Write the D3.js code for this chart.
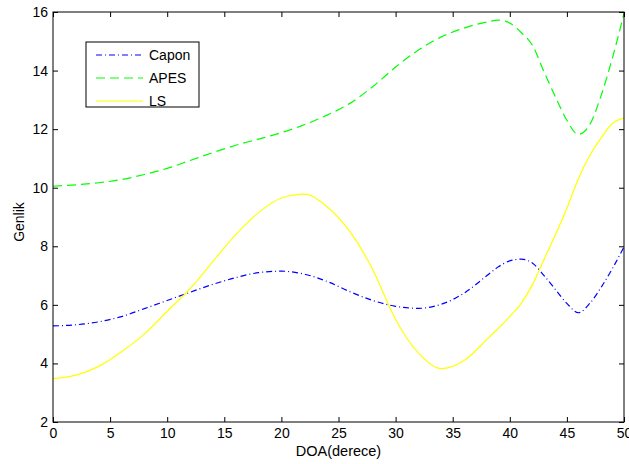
<!DOCTYPE html>
<html>
<head>
<meta charset="utf-8">
<script src="https://cdn.jsdelivr.net/npm/d3@7"></script>
<style>
  body { margin: 0; background: #fff; }
  svg { display: block; font-family: "Liberation Sans", Arial, sans-serif; }
</style>
</head>
<body>
<div id="chart"></div>
<script>
// DOA (derece) noktalari
const doa = [0, 2, 4, 6, 8, 10, 12, 14, 16, 18, 20, 22, 24, 26, 28, 30, 32, 34, 36, 38,
             39, 40, 41, 42, 43, 44, 45, 46, 47, 48, 49, 50];

// Genlik degerleri
const capon = [5.28, 5.32, 5.42, 5.6, 5.87, 6.15, 6.43, 6.7, 6.93, 7.1, 7.15, 7.05, 6.8, 6.45, 6.15, 5.95, 5.88, 6.02, 6.4, 7.0,
               7.3, 7.5, 7.56, 7.42, 7.0, 6.52, 6.05, 5.73, 6.05, 6.6, 7.25, 7.98];
const apes = [10.05, 10.1, 10.17, 10.28, 10.45, 10.66, 10.93, 11.2, 11.45, 11.66, 11.88, 12.15, 12.48, 12.88, 13.45, 14.12, 14.7, 15.15, 15.45, 15.66,
              15.72, 15.62, 15.3, 14.85, 13.95, 13.1, 12.3, 11.82, 12.15, 13.15, 14.45, 15.95];
const ls = [3.48, 3.6, 3.9, 4.4, 5.0, 5.78, 6.55, 7.48, 8.4, 9.15, 9.65, 9.78, 9.35, 8.5, 7.2, 5.5, 4.35, 3.82, 4.1, 4.82,
            5.2, 5.6, 6.05, 6.7, 7.55, 8.4, 9.3, 10.3, 11.1, 11.7, 12.2, 12.38];

const xTicks = [0, 5, 10, 15, 20, 25, 30, 35, 40, 45, 50];
const yTicks = [2, 4, 6, 8, 10, 12, 14, 16];

const seriesNames = ["Capon", "APES", "LS"];
const seriesValues = [capon, apes, ls];
const seriesColors = ["#0000ff", "#00ff00", "#ffff00"];
const seriesDash = ["6,3,1,3", "9,5", null];

const width = 629, height = 464;
const margin = { top: 12, right: 5, bottom: 42, left: 53 };
const innerW = width - margin.left - margin.right;
const innerH = height - margin.top - margin.bottom;
const fs = 14;

const svg = d3.select("#chart").append("svg")
    .attr("width", width)
    .attr("height", height);

const g = svg.append("g")
    .attr("transform", `translate(${margin.left},${margin.top})`);

const x = d3.scaleLinear().domain([0, 50]).range([0, innerW]);
const y = d3.scaleLinear().domain([2, 16]).range([innerH, 0]);

// Cizgiler
const line = d3.line()
    .x(d => x(d[0]))
    .y(d => y(d[1]))
    .curve(d3.curveMonotoneX);

g.append("defs").append("clipPath").attr("id", "clip")
    .append("rect").attr("width", innerW).attr("height", innerH);

seriesValues.forEach((vals, i) => {
    g.append("path")
        .datum(doa.map((d, j) => [d, vals[j]]))
        .attr("clip-path", "url(#clip)")
        .attr("fill", "none")
        .attr("stroke", seriesColors[i])
        .attr("stroke-width", 1.2)
        .attr("stroke-dasharray", seriesDash[i])
        .attr("d", line);
});

// Eksenler (tikler iceri dogru)
const axisStyle = sel => {
    sel.select(".domain").remove();
    sel.selectAll("text").attr("font-size", fs).attr("fill", "#000");
    sel.selectAll("line").attr("stroke", "#000");
};

g.append("g")
    .attr("transform", `translate(0,${innerH})`)
    .call(d3.axisBottom(x).tickValues(xTicks).tickSizeInner(-5).tickPadding(6))
    .call(axisStyle);

g.append("g")
    .call(d3.axisLeft(y).tickValues(yTicks).tickSizeInner(-5).tickPadding(5))
    .call(axisStyle);

g.append("g")
    .call(d3.axisTop(x).tickValues(xTicks).tickSizeInner(-5).tickFormat(""))
    .call(axisStyle);

g.append("g")
    .attr("transform", `translate(${innerW},0)`)
    .call(d3.axisRight(y).tickValues(yTicks).tickSizeInner(-5).tickFormat(""))
    .call(axisStyle);

g.append("rect")
    .attr("width", innerW)
    .attr("height", innerH)
    .attr("fill", "none")
    .attr("stroke", "#000")
    .attr("stroke-width", 1);

// Eksen basliklari
svg.append("text")
    .attr("x", margin.left + innerW / 2)
    .attr("y", 456)
    .attr("text-anchor", "middle")
    .attr("font-size", 14.5)
    .text("DOA(derece)");

svg.append("text")
    .attr("transform", `translate(24,222) rotate(-90)`)
    .attr("text-anchor", "middle")
    .attr("font-size", fs)
    .text("Genlik");

// Lejant
const legend = svg.append("g").attr("transform", "translate(86,42)");
legend.append("rect")
    .attr("width", 113)
    .attr("height", 65)
    .attr("fill", "#fff")
    .attr("stroke", "#000");

seriesNames.forEach((name, i) => {
    const ly = 13 + i * 23;
    legend.append("line")
        .attr("x1", 10).attr("x2", 57)
        .attr("y1", ly).attr("y2", ly)
        .attr("stroke", seriesColors[i])
        .attr("stroke-width", 1.2)
        .attr("stroke-dasharray", seriesDash[i]);
    legend.append("text")
        .attr("x", 63)
        .attr("y", ly + 5)
        .attr("font-size", fs)
        .text(name);
});
</script>
</body>
</html>
